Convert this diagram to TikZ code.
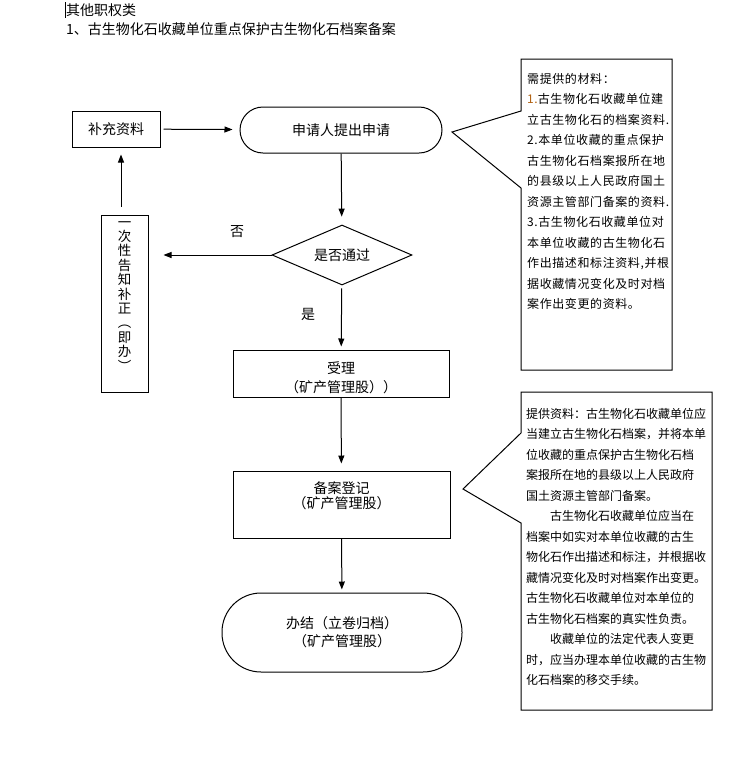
\documentclass[tikz,border=0pt]{standalone}
\usepackage{fontspec}
\setmainfont{Noto Sans CJK SC}
\newfontfamily\widecjk[LetterSpace=5]{Noto Sans CJK SC}
\usetikzlibrary{arrows.meta,shapes.geometric,positioning}
\definecolor{numbrown}{RGB}{176,96,16}

\begin{document}
\begin{tikzpicture}[x=1pt,y=-1pt,
  every node/.style={inner sep=0pt},
  flowbox/.style={draw,line width=1pt,rectangle},
  flowtext/.style={font=\fontsize{14pt}{19pt}\selectfont,align=center},
  flowarrow/.style={-{Triangle[length=8pt,width=6pt]},line width=1pt,shorten >=3pt},
  notetext/.style={anchor=north west,align=left,font=\fontsize{12pt}{20.5pt}\selectfont},
  callout/.style={line width=1pt}]

\useasboundingbox (0,0) rectangle (730,777);

% heading
\draw[line width=1pt] (65.5,2) -- (65.5,18);
\node[anchor=west,font=\fontsize{14pt}{17pt}\selectfont] (kind) at (66,10) {其他职权类};
\node[anchor=west,font=\fontsize{14pt}{17pt}\selectfont] (title) at (66,29) {1、古生物化石收藏单位重点保护古生物化石档案备案};

% flow
\node[flowbox,flowtext,minimum width=88pt,minimum height=36pt] (bu) at (116,129) {补充资料};
\node[flowbox,flowtext,rounded corners=23pt,minimum width=202pt,minimum height=46pt] (shen) at (341,130) {申请人提出申请};
\node[draw,line width=1pt,diamond,aspect=2.33,minimum width=140pt,minimum height=60pt,flowtext] (tong) at (342,255) {是否通过};
\node[flowbox,minimum width=47pt,minimum height=177pt] (bz) at (124.5,303.5) {};
\node[anchor=north,align=center,font=\fontsize{13.5pt}{14.4pt}\selectfont] (bztext) at (124.5,221)
  {一\\次\\性\\告\\知\\补\\正\\︵\\即\\办\\︶};
\node[flowbox,minimum width=216pt,minimum height=47pt] (shou) at (341,373.5) {};
\node[flowtext] (shoutext) at (341,378) {受理\\（矿产管理股））};
\node[flowbox,minimum width=217pt,minimum height=67pt] (bei) at (341.5,504.5) {};
\node[flowtext,font=\fontsize{14pt}{15pt}\selectfont] (beitext) at (341.5,495.5) {备案登记\\（矿产管理股）};
\node[flowbox,flowtext,rounded corners=39pt,minimum width=240pt,minimum height=79pt,font=\fontsize{14pt}{18pt}\selectfont] (ban) at (342,632.5) {办结（立卷归档）\\（矿产管理股）};

\draw[flowarrow,shorten <=3pt,shorten >=7pt] (bu) -- (shen);
\draw[flowarrow,shorten >=8pt] (shen) -- (tong);
\draw[flowarrow,shorten <=3pt] (tong) -- (shou);
\draw[flowarrow,shorten >=7pt] (shou) -- (bei);
\draw[flowarrow] (bei) -- (ban);
\draw[flowarrow,shorten >=15pt] (tong.west) -- (tong.west -| bz.east);
\draw[flowarrow,shorten <=8pt,shorten >=7pt] ([xshift=-3.5pt]bz.north) -- ([xshift=-3.5pt]bz.north |- bu.south);

\node[flowtext] (fou) at (237,232) {否};
\node[flowtext] (shi) at (308,314) {是};

% callouts
\coordinate (tipA) at (452,132);
\coordinate (tipB) at (463,489);
\draw[callout] (521,59) -- (672,59) -- (672,370) -- (521,370) -- (521,188) -- (tipA) -- (521,111) -- cycle;
\draw[callout] (521,392) -- (712,392) -- (712,710) -- (521,710) -- (521,523) -- (tipB) -- (521,433) -- cycle;

\node[notetext,font=\widecjk\fontsize{12pt}{20.5pt}\selectfont] (needs) at (527,73) {需提供的材料：\\
{\color{numbrown}1.}古生物化石收藏单位建\\
立古生物化石的档案资料.\\
2.本单位收藏的重点保护\\
古生物化石档案报所在地\\
的县级以上人民政府国土\\
资源主管部门备案的资料.\\
3.古生物化石收藏单位对\\
本单位收藏的古生物化石\\
作出描述和标注资料,并根\\
据收藏情况变化及时对档\\
案作出变更的资料。};

\node[notetext] (supply) at (526,408) {提供资料：古生物化石收藏单位应\\
当建立古生物化石档案，并将本单\\
位收藏的重点保护古生物化石档\\
案报所在地的县级以上人民政府\\
国土资源主管部门备案。\\
　　古生物化石收藏单位应当在\\
档案中如实对本单位收藏的古生\\
物化石作出描述和标注，并根据收\\
藏情况变化及时对档案作出变更。\\
古生物化石收藏单位对本单位的\\
古生物化石档案的真实性负责。\\
　　收藏单位的法定代表人变更\\
时，应当办理本单位收藏的古生物\\
化石档案的移交手续。};
\end{tikzpicture}
\end{document}
